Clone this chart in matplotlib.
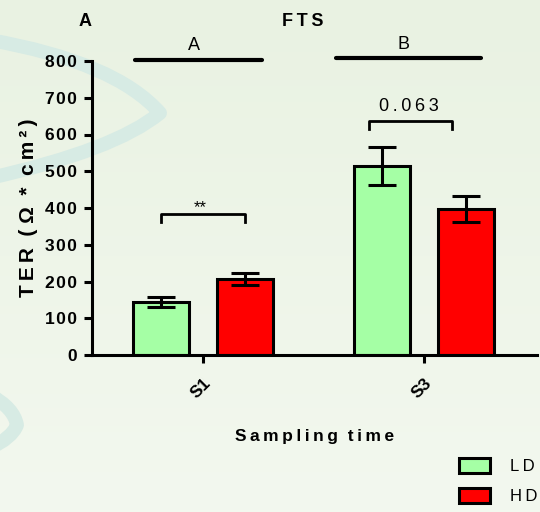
import numpy as np
import matplotlib.pyplot as plt
from matplotlib.path import Path
from matplotlib.patches import PathPatch

plt.rcParams['font.family'] = ['Liberation Sans', 'DejaVu Sans']

# data
groups = ['S1', 'S3']
ld_mean = [144, 515]
ld_err = [14, 52]
hd_mean = [207, 397]
hd_err = [16, 36]
y_ticks = [0, 100, 200, 300, 400, 500, 600, 700, 800]

LD_COL = '#A5FFA5'
HD_COL = '#FF0000'


def spaced(s, sep='\u2009'):
    return sep.join(s)


fig = plt.figure(figsize=(5.4, 5.12), dpi=100)

# background gradient + swoosh decoration
bg = fig.add_axes([0, 0, 1, 1], zorder=-10)
grad = np.linspace(0, 1, 256).reshape(-1, 1)
top = np.array([233, 242, 226]) / 255
bot = np.array([243, 248, 239]) / 255
img = top + (bot - top) * grad[:, :, None]
bg.imshow(img, extent=(0, 540, 512, 0), aspect='auto')
sw1 = Path([(-10, 40), (115, 62), (160, 113), (115, 150), (-10, 178)],
           [Path.MOVETO, Path.CURVE3, Path.CURVE3, Path.CURVE3, Path.CURVE3])
sw2 = Path([(-10, 395), (14, 408), (17, 425), (12, 438), (-10, 448)],
           [Path.MOVETO, Path.CURVE3, Path.CURVE3, Path.CURVE3, Path.CURVE3])
for p in (sw1, sw2):
    bg.add_patch(PathPatch(p, fill=False, edgecolor='#D7EBE4', lw=10,
                           capstyle='round', joinstyle='round'))
bg.set_xlim(0, 540)
bg.set_ylim(512, 0)
bg.axis('off')

ax = fig.add_axes([92 / 540, 1 - 355 / 512, (537 - 92) / 540, (355 - 61) / 512])
ax.set_facecolor('none')

x = np.arange(len(groups))
off = 0.19
w = 0.253
ek = dict(ecolor='black', elinewidth=2.2, capsize=10, capthick=2.2)
b1 = ax.bar(x - off, ld_mean, w, yerr=ld_err, color=LD_COL, edgecolor='black',
            linewidth=2.2, error_kw=ek, label='LD')
b2 = ax.bar(x + off, hd_mean, w, yerr=hd_err, color=HD_COL, edgecolor='black',
            linewidth=2.2, error_kw=ek, label='HD')

ax.set_xlim(-0.502, 1.511)
ax.set_ylim(0, 800)
ax.set_yticks(y_ticks)
ax.set_yticklabels([spaced(str(t), '\u200a') for t in y_ticks], fontsize=12.5,
                   fontweight='bold')
ax.set_xticks(x)
ax.set_xticklabels(groups, rotation=45, fontsize=12.5, fontweight='bold', ha='right',
                   rotation_mode='anchor')
for lab in ax.get_xticklabels():
    lab.set_y(-0.025)
ax.tick_params(axis='both', width=2.2, length=6, direction='out')
ax.tick_params(axis='y', pad=5)
for s in ('top', 'right'):
    ax.spines[s].set_visible(False)
for s in ('left', 'bottom'):
    ax.spines[s].set_linewidth(2.2)

ylab = spaced('TER') + '  ( Ω  *  ' + spaced('cm') + '\u2009²\u2009)'
ax.set_ylabel(ylab, fontsize=15, fontweight='bold', labelpad=5)
ax.set_xlabel(spaced('Sampling') + '  ' + spaced('time'), fontsize=12.5,
              fontweight='bold', labelpad=20)

# significance brackets
ax.plot([-off, -off, off, off], [362, 384, 384, 362], color='black', lw=2, clip_on=False)
ax.text(-0.014, 400, '**', ha='center', va='center', fontsize=12)
ax.plot([0.751, 0.751, 1.127, 1.127], [615, 637, 637, 615], color='black', lw=2, clip_on=False)
ax.text(0.932, 677, spaced('0.063'), ha='center', va='center', fontsize=13)

# group lines
ax.plot([-0.308, 0.267], [803, 803], color='black', lw=3, solid_capstyle='round', clip_on=False)
ax.text(-0.04, 842, 'A', ha='center', va='center', fontsize=13)
ax.plot([0.602, 1.258], [808, 808], color='black', lw=3, solid_capstyle='round', clip_on=False)
ax.text(0.905, 846, 'B', ha='center', va='center', fontsize=13)

fig.text(85 / 540, 1 - 21 / 512, 'A', ha='center', va='center', fontsize=13, fontweight='bold')
fig.text(303 / 540, 1 - 21 / 512, spaced('FTS'), ha='center', va='center', fontsize=13,
         fontweight='bold')

fig.legend(handles=[b1, b2], labels=[spaced('LD'), spaced('HD')], loc='upper left',
           bbox_to_anchor=(447 / 540, 1 - 446 / 512), frameon=False, fontsize=12,
           handlelength=1.9, handleheight=1.0, labelspacing=0.85, handletextpad=1.2,
           borderpad=0.2)

fig.savefig('out.png', dpi=100)
